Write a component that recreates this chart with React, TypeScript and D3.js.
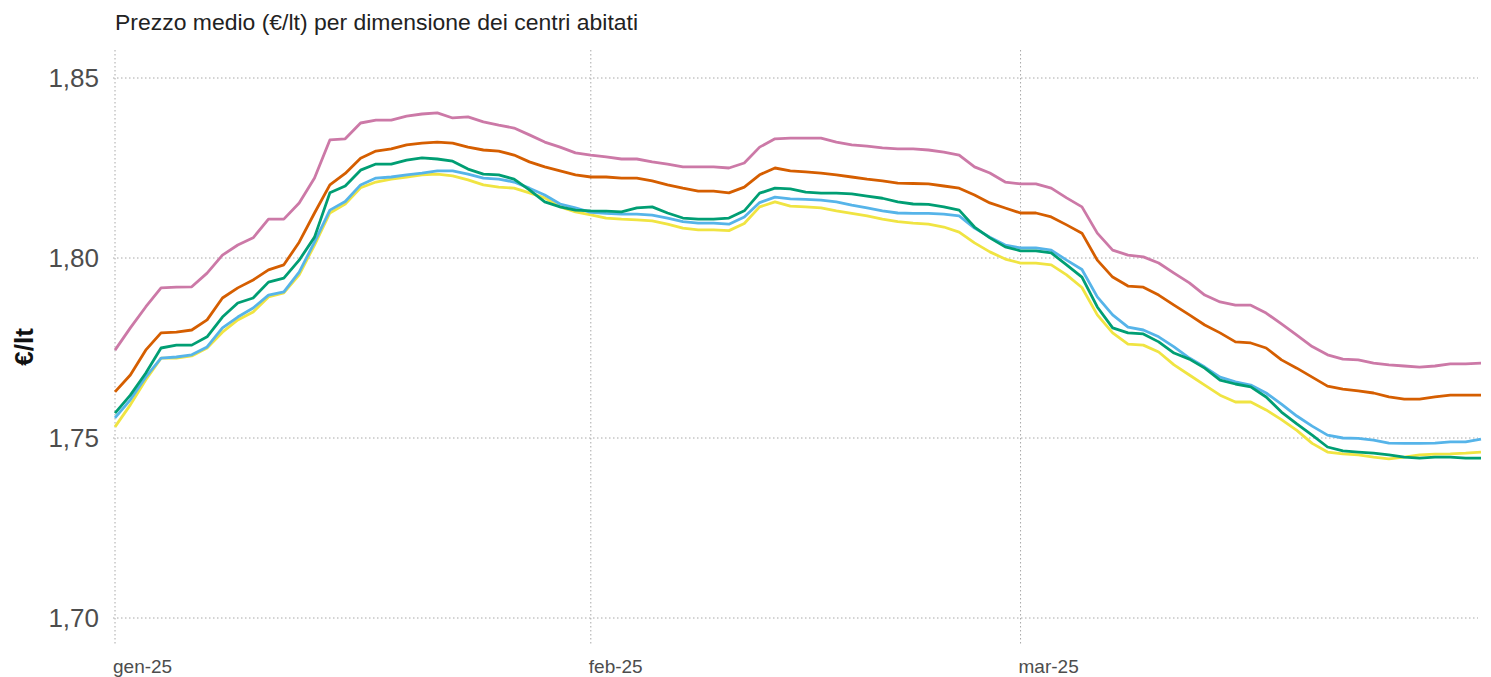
import React from "react";
import * as d3 from "d3";

// ---- data ----
const seriesNames = ["Serie 1", "Serie 2", "Serie 3", "Serie 4", "Serie 5"];
const seriesColors = ["#CC79A7", "#D55E00", "#F0E442", "#56B4E9", "#009E73"];

const pink = [
  1.7744, 1.7806, 1.7864, 1.7917, 1.7919, 1.792, 1.7958, 1.8008, 1.8036, 1.8056,
  1.8108, 1.8108, 1.8153, 1.8222, 1.8328, 1.8331, 1.8375, 1.8383, 1.8383, 1.8394,
  1.84, 1.8403, 1.8389, 1.8392, 1.8378, 1.8369, 1.8361, 1.8342, 1.8322, 1.8308,
  1.8292, 1.8286, 1.8281, 1.8275, 1.8275, 1.8267, 1.8261, 1.8253, 1.8253, 1.8253,
  1.825, 1.8264, 1.8308, 1.8331, 1.8333, 1.8333, 1.8333, 1.8322, 1.8314, 1.8311,
  1.8306, 1.8303, 1.8303, 1.83, 1.8294, 1.8286, 1.8253, 1.8236, 1.8211, 1.8206,
  1.8206, 1.8194, 1.8167, 1.8142, 1.8069, 1.8022, 1.8008, 1.8003, 1.7986, 1.7958,
  1.7931, 1.7897, 1.7878, 1.7869, 1.7869, 1.7847, 1.7817, 1.7786, 1.7754, 1.7731,
  1.7719, 1.7717, 1.7708, 1.7703, 1.77, 1.7697, 1.77, 1.7706, 1.7706, 1.7708,
];
const orange = [
  1.7628, 1.7675, 1.7744, 1.7792, 1.7794, 1.78, 1.7828, 1.7889, 1.7917, 1.7939,
  1.7967, 1.7981, 1.8044, 1.8125, 1.8203, 1.8235, 1.8277, 1.8297, 1.8303, 1.8314,
  1.8319, 1.8322, 1.8319, 1.8308, 1.83, 1.8297, 1.8286, 1.8267, 1.8253, 1.8242,
  1.8231, 1.8225, 1.8225, 1.8222, 1.8222, 1.8214, 1.8203, 1.8194, 1.8186, 1.8186,
  1.8181, 1.8197, 1.8231, 1.825, 1.8242, 1.8239, 1.8236, 1.8231, 1.8225, 1.8219,
  1.8214, 1.8208, 1.8207, 1.8206, 1.82, 1.8194, 1.8175, 1.8153, 1.8139, 1.8125,
  1.8125, 1.8114, 1.8092, 1.8069, 1.7994, 1.7947, 1.7922, 1.7919, 1.7897, 1.7869,
  1.7842, 1.7814, 1.7792, 1.7767, 1.7764, 1.775, 1.7717, 1.7694, 1.7669, 1.7644,
  1.7636, 1.7631, 1.7625, 1.7614, 1.7608, 1.7608, 1.7614, 1.7619, 1.7619, 1.7619,
];
const yellow = [
  1.7531, 1.7592, 1.7661, 1.7722, 1.7722, 1.7728, 1.775, 1.7794, 1.7828, 1.785,
  1.7892, 1.7903, 1.7953, 1.8036, 1.8125, 1.815, 1.8195, 1.8211, 1.8219, 1.8225,
  1.8231, 1.8233, 1.8228, 1.8217, 1.8203, 1.8197, 1.8194, 1.8181, 1.8167, 1.8142,
  1.8128, 1.812, 1.8111, 1.8108, 1.8106, 1.8103, 1.8094, 1.8083, 1.8078, 1.8078,
  1.8076, 1.8096, 1.8142, 1.8156, 1.8144, 1.8142, 1.8139, 1.8131, 1.8124, 1.8117,
  1.8108, 1.8101, 1.8097, 1.8094, 1.8086, 1.8072, 1.8042, 1.8017, 1.7997, 1.7986,
  1.7986, 1.7981, 1.7953, 1.7918, 1.7842, 1.7792, 1.7761, 1.7758, 1.7739, 1.7703,
  1.7675, 1.7647, 1.7619, 1.76, 1.76, 1.7578, 1.7551, 1.7521, 1.7485, 1.7461,
  1.7456, 1.7453, 1.7447, 1.7442, 1.7447, 1.7453, 1.7455, 1.7456, 1.7458, 1.7461,
];
const blue = [
  1.7556, 1.7606, 1.7669, 1.7722, 1.7725, 1.7731, 1.7753, 1.7806, 1.7836, 1.7861,
  1.7897, 1.7906, 1.7961, 1.8044, 1.8133, 1.8157, 1.8203, 1.8222, 1.8225, 1.8231,
  1.8236, 1.8242, 1.8242, 1.8233, 1.8222, 1.8219, 1.8211, 1.8194, 1.8175, 1.815,
  1.8139, 1.8127, 1.8124, 1.8122, 1.8122, 1.8119, 1.8111, 1.8101, 1.8097, 1.8097,
  1.8094, 1.8114, 1.8154, 1.8169, 1.8164, 1.8163, 1.8161, 1.8156, 1.8147, 1.8139,
  1.8131, 1.8125, 1.8124, 1.8124, 1.8122, 1.8117, 1.8083, 1.8058, 1.8036, 1.8028,
  1.8028, 1.8022, 1.7994, 1.7968, 1.7892, 1.7842, 1.7808, 1.78, 1.7781, 1.7753,
  1.7722, 1.7697, 1.7669, 1.7656, 1.7647, 1.7625, 1.7594, 1.7561, 1.7533, 1.7508,
  1.75, 1.7499, 1.7494, 1.7486, 1.7485, 1.7485, 1.7486, 1.7489, 1.7489, 1.7497,
];
const green = [
  1.7569, 1.7619, 1.768, 1.775, 1.7758, 1.7758, 1.7781, 1.7836, 1.7875, 1.7889,
  1.7933, 1.7944, 1.7994, 1.8058, 1.8181, 1.82, 1.8244, 1.8261, 1.8261, 1.8272,
  1.8278, 1.8275, 1.8269, 1.8247, 1.8233, 1.8231, 1.8219, 1.8189, 1.8156, 1.8142,
  1.8133, 1.8131, 1.813, 1.8128, 1.8139, 1.8142, 1.8125, 1.8111, 1.8108, 1.8108,
  1.8111, 1.8131, 1.818, 1.8194, 1.8192, 1.8183, 1.818, 1.818, 1.8178, 1.8172,
  1.8166, 1.8156, 1.815, 1.8149, 1.8142, 1.8133, 1.8086, 1.8056, 1.8031, 1.802,
  1.802, 1.8014, 1.7981, 1.7947, 1.7864, 1.7806, 1.7792, 1.7789, 1.7767, 1.7736,
  1.7719, 1.7694, 1.7661, 1.765, 1.7642, 1.7614, 1.7572, 1.7539, 1.7508, 1.7475,
  1.7464, 1.7461, 1.7458, 1.7453, 1.7447, 1.7444, 1.7447, 1.7447, 1.7444, 1.7444,
];

const yTicks = [1.7, 1.75, 1.8, 1.85];
const xTickDates = [new Date(2025, 0, 1), new Date(2025, 1, 1), new Date(2025, 2, 1)];
const xTickLabels = ["gen-25", "feb-25", "mar-25"];
const dates = d3.timeDay.range(new Date(2025, 0, 1), new Date(2025, 3, 1));

const allSeries = [pink, orange, yellow, blue, green];

const W = 1491;
const H = 677;
const FONT = "'Liberation Sans', Arial, sans-serif";

export default function App() {
  const x = d3
    .scaleTime()
    .domain([dates[0], dates[dates.length - 1]])
    .range([115, 1481]);
  const y = d3.scaleLinear().domain([1.7, 1.85]).range([618, 78]);
  const line = d3
    .line<number>()
    .x((_, i) => x(dates[i]))
    .y((v) => y(v));
  const fmt = (v: number) => d3.format(".2f")(v).replace(".", ",");

  return (
    <svg
      width={W}
      height={H}
      style={{ position: "absolute", left: 0, top: 0, background: "#fff" }}
      fontFamily={FONT}
    >
      <rect width={W} height={H} fill="#fff" />
      <text x={115} y={30} fontSize={22.5} fill="#222" textLength={523} lengthAdjust="spacingAndGlyphs">
        Prezzo medio (€/lt) per dimensione dei centri abitati
      </text>
      {/* grid */}
      {yTicks.map((t) => (
        <line
          key={"gy" + t}
          x1={113}
          x2={1478}
          y1={y(t)}
          y2={y(t)}
          stroke="#a8a8a8"
          strokeWidth={1}
          strokeDasharray="1.5,2.5"
        />
      ))}
      {xTickDates.map((d, i) => (
        <line
          key={"gx" + i}
          x1={x(d)}
          x2={x(d)}
          y1={50}
          y2={645}
          stroke="#a8a8a8"
          strokeWidth={1}
          strokeDasharray="1.5,2.5"
        />
      ))}
      {/* y labels */}
      {yTicks.map((t) => (
        <text
          key={"yl" + t}
          x={99}
          y={y(t)}
          dy="0.35em"
          textAnchor="end"
          fontSize={26}
          fill="#4d4d4d"
        >
          {fmt(t)}
        </text>
      ))}
      {/* x labels */}
      {xTickDates.map((d, i) => (
        <text key={"xl" + i} x={x(d) - 2} y={673} fontSize={19} fill="#4d4d4d">
          {xTickLabels[i]}
        </text>
      ))}
      <text
        transform="translate(33,347) rotate(-90)"
        textAnchor="middle"
        fontSize={26}
        fontWeight="bold"
        fill="#111"
      >
        €/lt
      </text>
      {/* lines */}
      {allSeries.map((s, i) => (
        <path
          key={seriesNames[i]}
          d={line(s) || ""}
          fill="none"
          stroke={seriesColors[i]}
          strokeWidth={2.8}
          strokeLinejoin="round"
        />
      ))}
    </svg>
  );
}
